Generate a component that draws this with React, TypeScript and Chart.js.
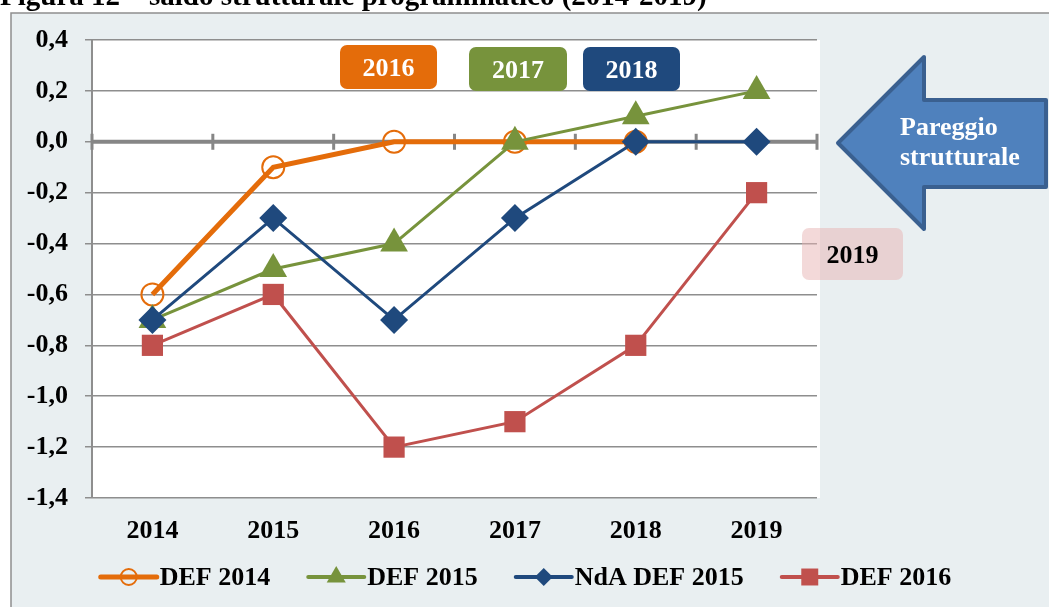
import React, { useEffect, useRef } from 'react';
import { Chart, registerables } from 'chart.js';

Chart.register(...registerables);

// ---------- data ----------
const TITLE = 'Figura 12 – saldo strutturale programmatico (2014-2019)';
const categories = ['2014', '2015', '2016', '2017', '2018', '2019'];
const seriesNames = ['DEF 2014', 'DEF 2015', 'NdA DEF 2015', 'DEF 2016'];
const def2014 = [-0.6, -0.1, 0.0, 0.0, 0.0, null];
const def2015 = [-0.7, -0.5, -0.4, 0.0, 0.1, 0.2];
const ndaDef2015 = [-0.7, -0.3, -0.7, -0.3, 0.0, 0.0];
const def2016 = [-0.8, -0.6, -1.2, -1.1, -0.8, -0.2];
const yMin = -1.4;
const yMax = 0.4;
const yStep = 0.2;
const yearLabels = ['2016', '2017', '2018', '2019'];
const arrowLines = ['Pareggio', 'strutturale'];

// ---------- styles ----------
const FONT = '"Liberation Serif", "Times New Roman", serif';
const FS = 26;
const ORANGE = '#E46C0A';
const GREEN = '#77933C';
const BLUE = '#1F497D';
const RED = '#C0504D';
const GRID = '#8e8e8e';
const AREA_BG = '#E9EFF1';

const seriesStyles = [
  { color: ORANGE, width: 5, style: 'circle', r: 11, legendR: 8, fill: 'rgba(0,0,0,0)' },
  { color: GREEN, width: 3, style: 'triangle', r: 16, legendR: 11, fill: GREEN },
  { color: BLUE, width: 3, style: 'rectRot', r: 14, legendR: 9, fill: BLUE },
  { color: RED, width: 3, style: 'rect', r: 15, legendR: 12, fill: RED },
];

const yearBoxStyles = [
  { x: 340, y: 45, w: 97, h: 44, fill: ORANGE, text: '#ffffff' },
  { x: 469, y: 47, w: 98, h: 44, fill: GREEN, text: '#ffffff' },
  { x: 583, y: 47, w: 97, h: 44, fill: BLUE, text: '#ffffff' },
  { x: 802, y: 228, w: 101, h: 52, fill: 'rgba(232,180,180,0.5)', text: '#000000' },
];

function drawMarker(ctx: CanvasRenderingContext2D, style: string, x: number, y: number, r: number, color: string, fill: string) {
  ctx.save();
  ctx.beginPath();
  if (style === 'circle') {
    ctx.arc(x, y, r, 0, Math.PI * 2);
    ctx.fillStyle = fill;
    ctx.fill();
    ctx.lineWidth = 2;
    ctx.strokeStyle = color;
    ctx.stroke();
  } else if (style === 'triangle') {
    const h = r * 1.5;
    const w = r * Math.sqrt(3);
    ctx.moveTo(x, y - r);
    ctx.lineTo(x + w / 2, y - r + h);
    ctx.lineTo(x - w / 2, y - r + h);
    ctx.closePath();
    ctx.fillStyle = fill;
    ctx.fill();
  } else if (style === 'rectRot') {
    ctx.moveTo(x, y - r);
    ctx.lineTo(x + r, y);
    ctx.lineTo(x, y + r);
    ctx.lineTo(x - r, y);
    ctx.closePath();
    ctx.fillStyle = fill;
    ctx.fill();
  } else {
    const s = r * Math.SQRT1_2;
    ctx.rect(x - s, y - s, 2 * s, 2 * s);
    ctx.fillStyle = fill;
    ctx.fill();
  }
  ctx.restore();
}

const backgroundPlugin = {
  id: 'backgroundPlugin',
  beforeDraw(chart: any) {
    const { ctx, chartArea: a } = chart;
    ctx.save();
    ctx.fillStyle = '#ffffff';
    ctx.fillRect(0, 0, chart.width, chart.height);
    ctx.fillStyle = AREA_BG;
    ctx.fillRect(11, 13, 1200, 800);
    ctx.strokeStyle = GRID;
    ctx.lineWidth = 1.5;
    ctx.strokeRect(11, 13, 1200, 800);
    ctx.fillStyle = '#ffffff';
    ctx.fillRect(a.left, a.top, a.right - a.left + 3, a.bottom - a.top);
    ctx.fillStyle = '#000000';
    ctx.font = `bold 29px ${FONT}`;
    ctx.textBaseline = 'alphabetic';
    ctx.textAlign = 'left';
    ctx.fillText(TITLE, 0, 5);
    ctx.restore();
  },
  beforeDatasetsDraw(chart: any) {
    const { ctx, chartArea: a } = chart;
    const xs = chart.scales.x;
    const ys = chart.scales.y;
    const y0 = ys.getPixelForValue(0);
    ctx.save();
    ctx.strokeStyle = '#868686';
    ctx.lineWidth = 4;
    ctx.beginPath();
    ctx.moveTo(a.left, y0);
    ctx.lineTo(a.right, y0);
    ctx.stroke();
    const step = xs.getPixelForValue(1) - xs.getPixelForValue(0);
    ctx.lineWidth = 3;
    for (let i = 0; i <= categories.length; i++) {
      const x = xs.getPixelForValue(0) - step / 2 + i * step;
      ctx.beginPath();
      ctx.moveTo(x, y0 - 8);
      ctx.lineTo(x, y0 + 8);
      ctx.stroke();
    }
    ctx.restore();
  },
  afterDraw(chart: any) {
    const { ctx } = chart;
    ctx.save();
    // year boxes
    yearLabels.forEach((t, i) => {
      const b = yearBoxStyles[i];
      ctx.beginPath();
      ctx.roundRect(b.x, b.y, b.w, b.h, 7);
      ctx.fillStyle = b.fill;
      ctx.fill();
      ctx.fillStyle = b.text;
      ctx.font = `bold ${FS}px ${FONT}`;
      ctx.textAlign = 'center';
      ctx.textBaseline = 'middle';
      ctx.fillText(t, b.x + b.w / 2, b.y + b.h / 2 + 2);
    });
    // arrow
    ctx.beginPath();
    ctx.moveTo(838, 143);
    ctx.lineTo(924, 57);
    ctx.lineTo(924, 100);
    ctx.lineTo(1046, 100);
    ctx.lineTo(1046, 187);
    ctx.lineTo(924, 187);
    ctx.lineTo(924, 229);
    ctx.closePath();
    ctx.fillStyle = '#4F81BD';
    ctx.fill();
    ctx.lineWidth = 4;
    ctx.lineJoin = 'round';
    ctx.strokeStyle = '#3A6090';
    ctx.stroke();
    ctx.fillStyle = '#ffffff';
    ctx.font = `bold ${FS}px ${FONT}`;
    ctx.textAlign = 'left';
    ctx.textBaseline = 'middle';
    ctx.fillText(arrowLines[0], 900, 128);
    ctx.fillText(arrowLines[1], 900, 158);

    // legend
    ctx.font = `bold ${FS}px ${FONT}`;
    const lineLen = 56;
    const gapText = 3;
    const gapItem = 38;
    const widths = seriesNames.map((n) => lineLen + gapText + ctx.measureText(n).width);
    const total = widths.reduce((s, w) => s + w, 0) + gapItem * (widths.length - 1);
    let x = 526 - total / 2;
    const ly = 577;
    seriesNames.forEach((n, i) => {
      const st = seriesStyles[i];
      ctx.beginPath();
      ctx.moveTo(x, ly);
      ctx.lineTo(x + lineLen, ly);
      ctx.strokeStyle = st.color;
      ctx.lineWidth = i === 0 ? 5 : 4;
      ctx.lineCap = 'round';
      ctx.stroke();
      drawMarker(ctx, st.style, x + lineLen / 2, ly, st.legendR, st.color, st.fill);
      ctx.fillStyle = '#000000';
      ctx.textAlign = 'left';
      ctx.textBaseline = 'middle';
      ctx.fillText(n, x + lineLen + gapText, ly + 1);
      x += widths[i] + gapItem;
    });
    ctx.restore();
  },
};

export default function App() {
  const ref = useRef<HTMLCanvasElement | null>(null);
  useEffect(() => {
    if (!ref.current) return;
    const seriesData = [def2014, def2015, ndaDef2015, def2016];
    const chart = new Chart(ref.current, {
      type: 'line',
      data: {
        labels: categories,
        datasets: seriesNames.map((name, i) => {
          const st = seriesStyles[i];
          return {
            label: name,
            data: seriesData[i],
            borderColor: st.color,
            backgroundColor: st.fill,
            borderWidth: st.width,
            pointStyle: st.style as any,
            pointRadius: st.r,
            pointHoverRadius: st.r,
            pointBorderWidth: i === 0 ? 2 : 0,
            pointBackgroundColor: st.fill,
            pointBorderColor: st.color,
            tension: 0,
            fill: false,
            order: seriesNames.length - i,
            clip: false as any,
          };
        }),
      },
      options: {
        responsive: false,
        animation: false,
        layout: { padding: { left: 0, top: 40, right: 232, bottom: 0 } },
        plugins: { legend: { display: false }, tooltip: { enabled: false }, title: { display: false } },
        scales: {
          x: {
            type: 'category',
            offset: true,
            grid: { display: false, drawTicks: false },
            border: { display: false },
            ticks: {
              color: '#000',
              font: { family: FONT, size: FS, weight: 'bold' },
              padding: 18,
              maxRotation: 0,
              autoSkip: false,
            },
            afterFit: (s: any) => {
              s.height = 109;
            },
          },
          y: {
            min: yMin,
            max: yMax,
            grid: { color: GRID, lineWidth: 1.5, tickLength: 7, tickColor: GRID, tickWidth: 1.5 },
            border: { display: true, color: GRID, width: 2 },
            ticks: {
              stepSize: yStep,
              color: '#000',
              font: { family: FONT, size: FS, weight: 'bold' },
              padding: 17,
              callback: (v: any) => (Math.round(Number(v) * 10) / 10).toFixed(1).replace('.', ','),
            },
            afterFit: (s: any) => {
              s.width = 92;
            },
          },
        },
      },
      plugins: [backgroundPlugin],
    });
    return () => chart.destroy();
  }, []);
  return (
    <div style={{ position: 'fixed', left: 0, top: 0, width: 1049, height: 607 }}>
      <canvas ref={ref} width={1049} height={607} style={{ display: 'block' }} />
    </div>
  );
}
